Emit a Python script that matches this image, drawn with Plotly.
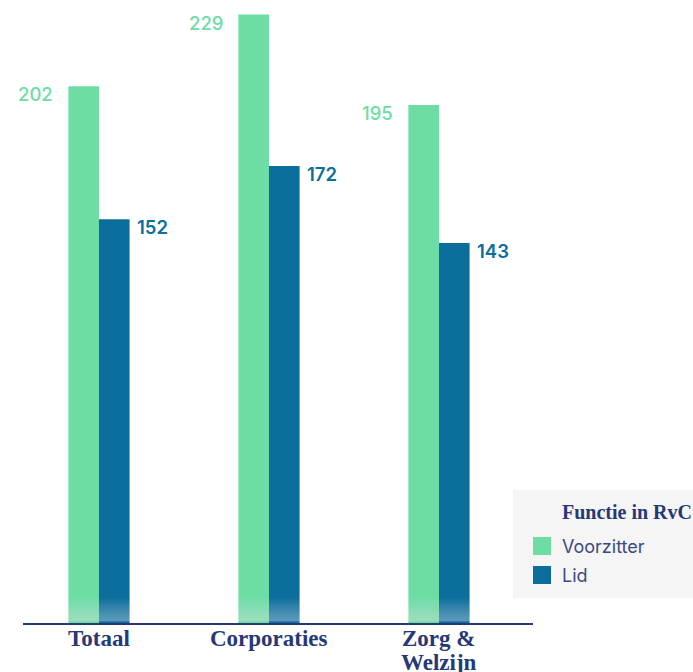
import plotly.graph_objects as go

categories = ["Totaal", "Corporaties", "Zorg &<br>Welzijn"]
voorzitter = [202, 229, 195]
lid = [152, 172, 143]
series_names = ["Voorzitter", "Lid"]
legend_title = "Functie in RvC"

GREEN = "#6DDDA4"
BLUE = "#0B6E9C"
NAVY = "#273877"
LEG_TXT = "#3A4A85"

xs = list(range(len(categories)))
colors = [GREEN, BLUE]

fig = go.Figure()
fig.add_bar(x=xs, y=voorzitter, name=series_names[0], marker=dict(color=GREEN, line=dict(width=0)))
fig.add_bar(x=xs, y=lid, name=series_names[1], marker=dict(color=BLUE, line=dict(width=0)))

for i, v in enumerate(voorzitter):
    fig.add_annotation(x=i, y=v, text=str(v), showarrow=False, xref="x", yref="y",
                       xanchor="right", yanchor="middle", xshift=-44, yshift=-8,
                       font=dict(family="Inter", size=18.5, color=GREEN, weight=500))
for i, v in enumerate(lid):
    fig.add_annotation(x=i, y=v, text=str(v), showarrow=False, xref="x", yref="y",
                       xanchor="left", yanchor="middle", xshift=36, yshift=-8,
                       font=dict(family="Inter", size=18.5, color=BLUE, weight=600))

# category labels (one text line per annotation so the line spacing stays tight)
for i, cat in enumerate(categories):
    for j, line in enumerate(cat.split("<br>")):
        fig.add_annotation(x=i, y=0, text=line, showarrow=False, xref="x", yref="y",
                           xanchor="center", yanchor="top", yshift=-1 - 24 * j,
                           font=dict(family="Liberation Serif", size=23, color=NAVY, weight="bold"))

# soft white fade at the bottom of the bars
N = 16
for k in range(1, N + 1):
    fig.add_shape(type="rect", xref="paper", yref="y", x0=0, x1=1, y0=0.6, y1=0.6 + k * 0.55,
                  fillcolor="white", opacity=0.026, line=dict(width=0), layer="above")

# manual legend (plot area: x 23..533 px, y 0..623 px)
L, W, H = 23.0, 510.0, 623.0
def px(x):
    return (x - L) / W
def py(y):
    return (H - y) / H

fig.add_shape(type="rect", xref="paper", yref="paper", x0=px(513), x1=px(700), y0=py(598), y1=py(490),
              fillcolor="#F5F5F5", line=dict(width=0), layer="above")
fig.add_annotation(xref="paper", yref="paper", x=px(560), y=py(512), text="<b>" + legend_title + "</b>",
                   showarrow=False, xanchor="left", yanchor="middle",
                   font=dict(family="Liberation Serif", size=20, color=NAVY))
item_y = [546, 575]
for name, col, yc in zip(series_names, colors, item_y):
    fig.add_shape(type="rect", xref="paper", yref="paper", x0=px(533), x1=px(551),
                  y0=py(yc + 9), y1=py(yc - 9), fillcolor=col, line=dict(width=0), layer="above")
    fig.add_annotation(xref="paper", yref="paper", x=px(560), y=py(yc), text=name,
                       showarrow=False, xanchor="left", yanchor="middle",
                       font=dict(family="Inter", size=18, color=LEG_TXT))

fig.update_layout(
    width=693, height=672,
    margin=dict(l=23, r=160, t=0, b=49, autoexpand=False),
    plot_bgcolor="white", paper_bgcolor="white",
    barmode="group", bargap=0.64, bargroupgap=0,
    showlegend=False,
    xaxis=dict(
        range=[-0.447, 2.553], tickmode="array", tickvals=xs, showticklabels=False,
        showgrid=False, zeroline=False, showline=True, linecolor=NAVY, linewidth=1.5,
        ticks="", automargin=False, fixedrange=True,
    ),
    yaxis=dict(range=[0, 234.5], visible=False, showgrid=False, zeroline=False,
               automargin=False, fixedrange=True),
)

fig.write_html("out.html", config={"displayModeBar": False},
               post_script="document.body.style.margin='0';document.body.style.overflow='hidden';")
